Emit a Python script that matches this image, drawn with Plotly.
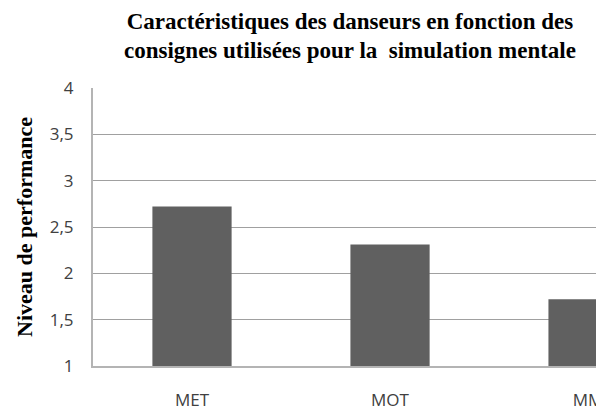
import plotly.graph_objects as go

categories = ["MET", "MOT", "MM"]
values = [2.72, 2.31, 1.72]
y_ticks = [1, 1.5, 2, 2.5, 3, 3.5, 4]
y_tick_labels = ["1", "1,5", "2", "2,5", "3", "3,5", "4"]
title_text = "Caractéristiques des danseurs en fonction des<br>consignes utilisées pour la  simulation mentale"
y_title = "Niveau de performance"

BASE = 1
fig = go.Figure(go.Bar(
    x=categories, y=[v - BASE for v in values], base=BASE,
    marker=dict(color="#606060", line=dict(width=0)),
    width=0.4,
))

fig.update_layout(
    width=604, height=410,
    margin=dict(l=85, r=0, t=80, b=52),
    paper_bgcolor="white", plot_bgcolor="white",
    showlegend=False,
    title=dict(text="<b>" + title_text + "</b>", x=342/604, xref="container", xanchor="center",
               y=1 - 20.5/410, yref="container", yanchor="middle",
               font=dict(family="Liberation Serif", size=23, color="black")),
    font=dict(family="Open Sans", size=17, color="#404040"),
)
fig.update_xaxes(
    type="category", range=[-0.5, 2.121],
    showline=True, linecolor="#b4b4b4", linewidth=2,
    showgrid=False, ticks="", ticklabelstandoff=18,
    tickfont=dict(family="Open Sans", size=17, color="#404040"),
)
fig.update_yaxes(
    range=[1, 4], tickvals=y_ticks, ticktext=y_tick_labels,
    showline=True, linecolor="#b4b4b4", linewidth=2,
    showgrid=True, gridcolor="#a0a0a0", gridwidth=1,
    zeroline=False, ticks="", ticklabelstandoff=14,
    tickfont=dict(family="Open Sans", size=17, color="#404040"),
    title=dict(text="<b>" + y_title + "</b>", standoff=11,
               font=dict(family="Liberation Serif", size=22, color="black")),
)
fig.write_html("out.html")
